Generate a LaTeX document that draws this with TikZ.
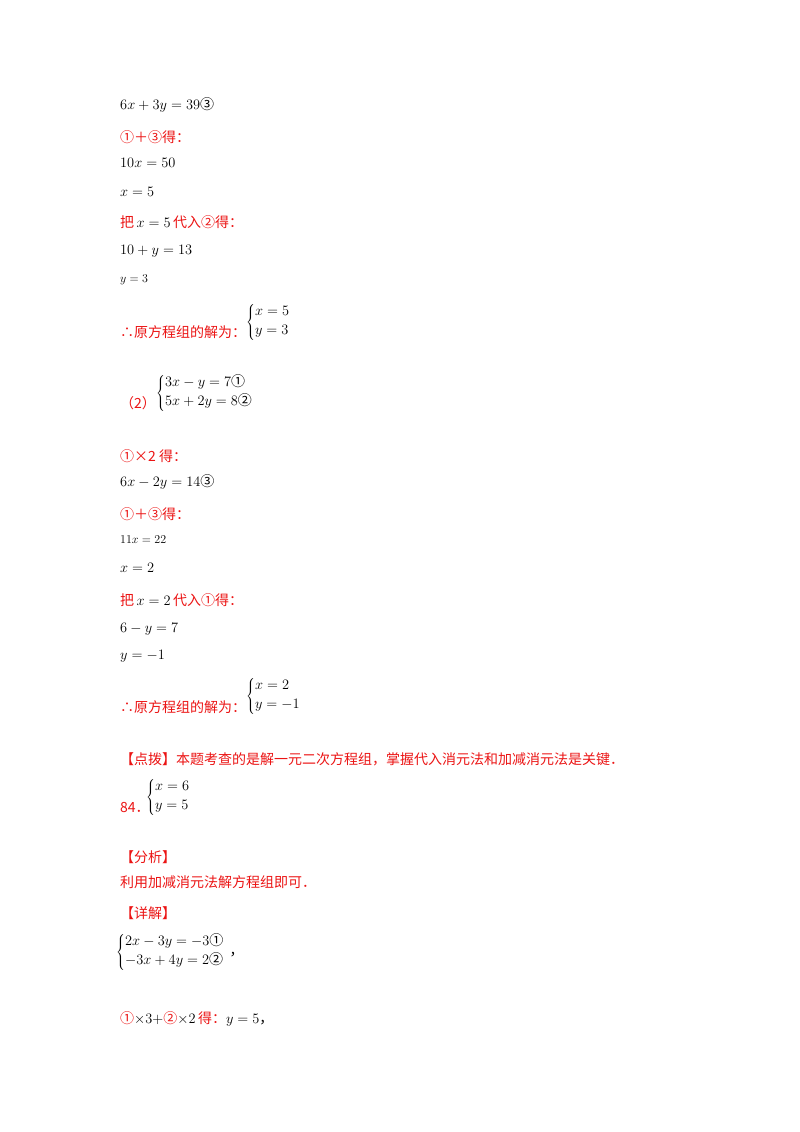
\documentclass[tikz,border=0pt]{standalone}
\usepackage{fontspec}
\setmainfont{Liberation Serif}
\newfontfamily\cjk{Noto Sans CJK SC}
\usepackage{xcolor}
\definecolor{rd}{RGB}{235,20,20}
\newcommand{\rt}[1]{{\color{rd}\cjk #1}}
\begin{document}
\begin{tikzpicture}[x=1pt,y=-1pt,
  ln/.style={anchor=west,inner sep=0pt,font=\fontsize{14}{17}\selectfont},
  sm/.style={anchor=west,inner sep=0pt,font=\fontsize{12}{15}\selectfont}]
\useasboundingbox (0,0) rectangle (800,1132);
\node[ln] (l1) at (120,105) {$6x+3y=39${\cjk ③}};
\node[ln] (l2) at (120,137) {\rt{①＋③得：}};
\node[ln] (l3) at (120,163) {$10x=50$};
\node[ln] (l4) at (120,192) {$x=5$};
\node[ln] (l5) at (120,222) {\rt{把}$\,x=5\,$\rt{代入②得：}};
\node[ln] (l6) at (120,251) {$10+y=13$};
\node[sm] (l7) at (120,280) {$y=3$};
\node[ln] (l8) at (120,332) {\rt{∴原方程组的解为：}};
\node[ln] (b1) at (246,322) {$\left\{\begin{array}{@{}l}x=5\\[2pt] y=3\end{array}\right.$};
\node[ln] (p2) at (120,403) {\rt{（2）}};
\node[ln] (b2) at (156,393) {$\left\{\begin{array}{@{}l}3x-y=7\mbox{\cjk ①}\\[2pt] 5x+2y=8\mbox{\cjk ②}\end{array}\right.$};
\node[ln] (l9) at (120,456) {\rt{①×2 得：}};
\node[ln] (l10) at (120,482) {$6x-2y=14${\cjk ③}};
\node[ln] (l11) at (120,514) {\rt{①＋③得：}};
\node[sm] (l12) at (120,540) {$11x=22$};
\node[ln] (l13) at (120,568) {$x=2$};
\node[ln] (l14) at (120,600) {\rt{把}$\,x=2\,$\rt{代入①得：}};
\node[ln] (l15) at (120,629) {$6-y=7$};
\node[ln] (l16) at (120,656) {$y=-1$};
\node[ln] (l17) at (120,707) {\rt{∴原方程组的解为：}};
\node[ln] (b3) at (246,696) {$\left\{\begin{array}{@{}l}x=2\\[2pt] y=-1\end{array}\right.$};
\node[ln] (l18) at (120,759) {\rt{【点拨】本题考查的是解一元二次方程组，掌握代入消元法和加减消元法是关键．}};
\node[ln] (n84) at (120,807) {\rt{84．}};
\node[ln] (b4) at (146,797) {$\left\{\begin{array}{@{}l}x=6\\[2pt] y=5\end{array}\right.$};
\node[ln] (l19) at (120,857) {\rt{【分析】}};
\node[ln] (l20) at (120,882) {\rt{利用加减消元法解方程组即可．}};
\node[ln] (l21) at (120,913) {\rt{【详解】}};
\node[ln] (b5) at (116,952) {$\left\{\begin{array}{@{}l}2x-3y=-3\mbox{\cjk ①}\\[2pt] -3x+4y=2\mbox{\cjk ②}\end{array}\right.${\cjk ，}};
\node[ln] (l22) at (120,1019) {\rt{①}$\times3+$\rt{②}$\times2$\,\rt{得：}$y=5${\cjk ，}};
\end{tikzpicture}
\end{document}
